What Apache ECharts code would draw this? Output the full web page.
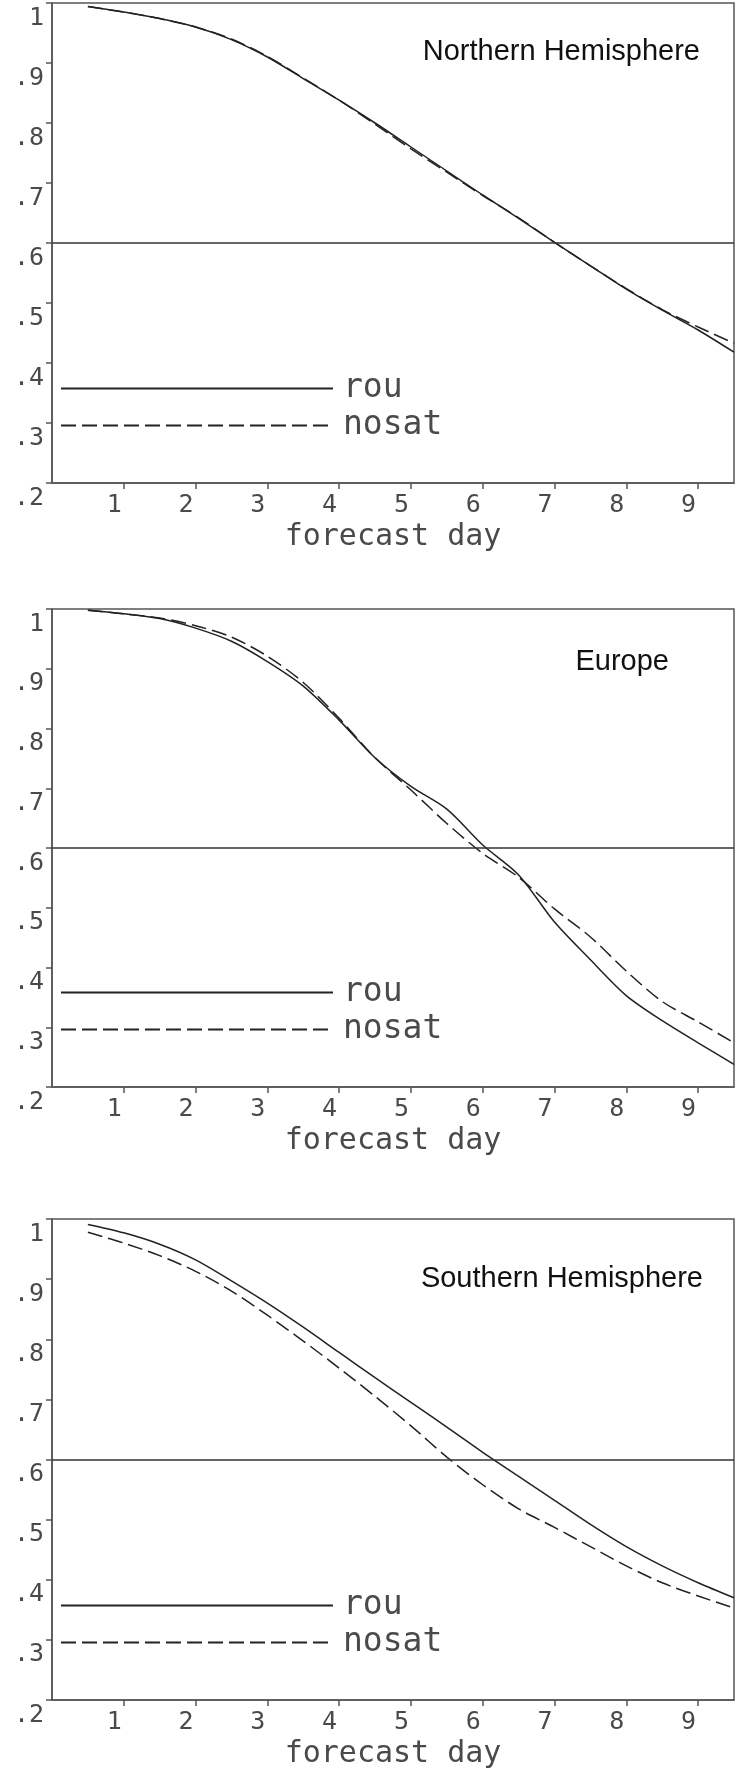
<!DOCTYPE html>
<html>
<head>
<meta charset="utf-8">
<script src="https://cdn.jsdelivr.net/npm/echarts@6/dist/echarts.min.js"></script>
<style>
  html, body { margin: 0; padding: 0; background: #fff; }
  #chart { width: 736px; height: 1771px; }
</style>
</head>
<body>
<div id="chart"></div>
<script>
// ---- data ----
const days = [0.5, 1, 1.5, 2, 2.5, 3, 3.5, 4, 4.5, 5, 5.5, 6, 6.5, 7, 7.5, 8, 8.5, 9, 9.5];

const nhRou   = [0.994, 0.985, 0.974, 0.960, 0.939, 0.910, 0.874, 0.838, 0.800, 0.760, 0.720, 0.680, 0.641, 0.601, 0.562, 0.523, 0.488, 0.455, 0.418];
const nhNosat = [0.994, 0.985, 0.974, 0.960, 0.940, 0.911, 0.875, 0.838, 0.798, 0.757, 0.718, 0.679, 0.642, 0.601, 0.562, 0.524, 0.489, 0.460, 0.433];

const euRou   = [0.998, 0.992, 0.984, 0.968, 0.946, 0.912, 0.871, 0.814, 0.751, 0.703, 0.665, 0.605, 0.555, 0.476, 0.413, 0.353, 0.311, 0.274, 0.238];
const euNosat = [0.998, 0.992, 0.985, 0.972, 0.953, 0.921, 0.877, 0.817, 0.751, 0.697, 0.641, 0.591, 0.551, 0.498, 0.451, 0.394, 0.343, 0.309, 0.274];

const shRou   = [0.991, 0.977, 0.958, 0.932, 0.897, 0.860, 0.820, 0.778, 0.736, 0.695, 0.654, 0.612, 0.572, 0.532, 0.492, 0.455, 0.423, 0.395, 0.370];
const shNosat = [0.978, 0.960, 0.939, 0.913, 0.880, 0.840, 0.797, 0.752, 0.705, 0.656, 0.604, 0.558, 0.518, 0.487, 0.455, 0.423, 0.395, 0.373, 0.353];

const panelTitles = ['Northern Hemisphere', 'Europe', 'Southern Hemisphere'];
const seriesNames = ['rou', 'nosat'];
const xTickValues = [1, 2, 3, 4, 5, 6, 7, 8, 9];
const xTickLabels = ['1', '2', '3', '4', '5', '6', '7', '8', '9'];
const yTickValues = [0.2, 0.3, 0.4, 0.5, 0.6, 0.7, 0.8, 0.9, 1.0];
const yTickLabels = ['.2', '.3', '.4', '.5', '.6', '.7', '.8', '.9', '1'];
const xAxisName = 'forecast day';
const thresholdValue = 0.6;

const panels = [
  { rou: nhRou, nosat: nhNosat },
  { rou: euRou, nosat: euNosat },
  { rou: shRou, nosat: shNosat }
];

// ---- layout / style ----
const gridTops = [3, 609, 1219];
const gridHeights = [480, 478, 481];
const legendTops = [372, 976, 1589];
const titleTops = [37, 647, 1264];
const titleRights = [36, 67, 33];

const MONO = "'DejaVu Sans Mono', 'Liberation Mono', monospace";
const AXIS_COLOR = '#555';
const TEXT_COLOR = '#4a4a4a';
const LINE_COLOR = '#222';

const chart = echarts.init(document.getElementById('chart'), null, { renderer: 'canvas' });

const toPairs = (vals) => days.map((d, i) => [d, vals[i]]);

const grid = [], xAxis = [], yAxis = [], series = [], legend = [], title = [];

panels.forEach((p, i) => {
  grid.push({
    left: 52, right: 2, top: gridTops[i], height: gridHeights[i],
    show: true, borderColor: AXIS_COLOR, borderWidth: 1.5, backgroundColor: 'transparent'
  });
  xAxis.push({
    gridIndex: i, type: 'value', min: 0, max: 9.5, interval: 1,
    axisLine: { show: true, onZero: false, lineStyle: { color: AXIS_COLOR, width: 1.5 } },
    axisTick: { show: true, inside: false, length: 6, customValues: xTickValues, lineStyle: { color: AXIS_COLOR, width: 1.5 } },
    axisLabel: {
      customValues: xTickValues,
      formatter: (v) => {
        const k = xTickValues.indexOf(Math.round(v));
        return (k >= 0 && Math.abs(v - Math.round(v)) < 1e-6) ? xTickLabels[k] : '';
      },
      align: 'right', margin: 10, padding: [0, 2, 0, 0],
      fontSize: 25, fontFamily: MONO, color: TEXT_COLOR
    },
    splitLine: { show: false },
    name: xAxisName, nameLocation: 'middle', nameGap: 39,
    nameTextStyle: { fontSize: 30, fontFamily: MONO, color: TEXT_COLOR, verticalAlign: 'top', align: 'center' }
  });
  yAxis.push({
    gridIndex: i, type: 'value', min: 0.2, max: 1, interval: 0.1,
    axisLine: { show: true, onZero: false, lineStyle: { color: AXIS_COLOR, width: 1.5 } },
    axisTick: { show: true, inside: false, length: 6, customValues: yTickValues, lineStyle: { color: AXIS_COLOR, width: 1.5 } },
    axisLabel: {
      customValues: yTickValues,
      formatter: (v) => {
        const k = Math.round(v * 10) - 2;
        return yTickLabels[k] !== undefined ? yTickLabels[k] : '';
      },
      verticalAlign: 'top', lineHeight: 30, margin: 8,
      fontSize: 25, fontFamily: MONO, color: TEXT_COLOR
    },
    splitLine: { show: false }
  });
  series.push({
    name: seriesNames[0], type: 'line', xAxisIndex: i, yAxisIndex: i,
    data: toPairs(p.rou), smooth: 0.3, symbol: 'none', silent: true,
    lineStyle: { color: LINE_COLOR, width: 1.5, type: 'solid' },
    itemStyle: { color: LINE_COLOR },
    markLine: {
      silent: true, symbol: ['none', 'none'], label: { show: false },
      lineStyle: { color: '#333', width: 1.5, type: 'solid' },
      data: [{ yAxis: thresholdValue }]
    }
  });
  series.push({
    name: seriesNames[1], type: 'line', xAxisIndex: i, yAxisIndex: i,
    data: toPairs(p.nosat), smooth: 0.3, symbol: 'none', silent: true,
    lineStyle: { color: LINE_COLOR, width: 1.5, type: [15, 6] },
    itemStyle: { color: LINE_COLOR }
  });
  legend.push({
    left: 60, top: legendTops[i], orient: 'vertical', padding: 0,
    itemWidth: 272, itemHeight: 14, itemGap: 4, selectedMode: false,
    data: seriesNames,
    itemStyle: { opacity: 0 },
    textStyle: { fontSize: 33, fontFamily: MONO, color: TEXT_COLOR, lineHeight: 30, padding: [0, 0, 0, 5] }
  });
  title.push({
    text: panelTitles[i], right: titleRights[i], top: titleTops[i], padding: 0,
    textStyle: { fontFamily: "'Liberation Sans', Arial, sans-serif", fontSize: 29, fontWeight: 'normal', color: '#111' }
  });
});

chart.setOption({
  animation: false,
  backgroundColor: '#fff',
  title, legend, grid, xAxis, yAxis, series
});
</script>
</body>
</html>
